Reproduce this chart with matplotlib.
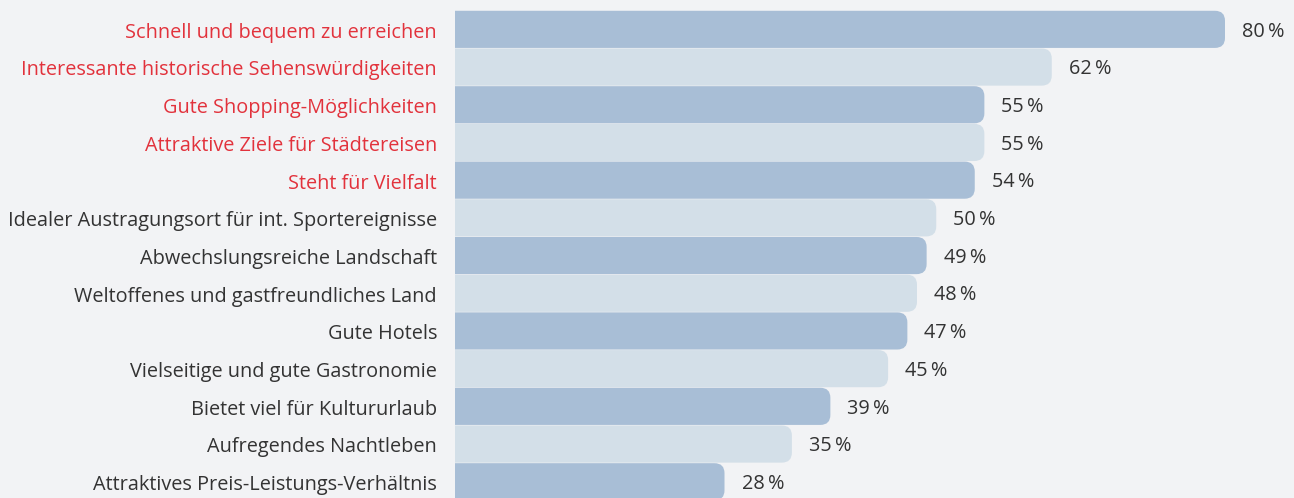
import matplotlib
matplotlib.use("Agg")
import matplotlib.pyplot as plt
from matplotlib.patches import FancyBboxPatch

categories = [
    "Schnell und bequem zu erreichen",
    "Interessante historische Sehenswürdigkeiten",
    "Gute Shopping-Möglichkeiten",
    "Attraktive Ziele für Städtereisen",
    "Steht für Vielfalt",
    "Idealer Austragungsort für int. Sportereignisse",
    "Abwechslungsreiche Landschaft",
    "Weltoffenes und gastfreundliches Land",
    "Gute Hotels",
    "Vielseitige und gute Gastronomie",
    "Bietet viel für Kultururlaub",
    "Aufregendes Nachtleben",
    "Attraktives Preis-Leistungs-Verhältnis",
]
values = [80, 62, 55, 55, 54, 50, 49, 48, 47, 45, 39, 35, 28]
highlighted = [True, True, True, True, True] + [False] * 8

BG = "#f2f3f5"
DARK = "#a8bed6"
LIGHT = "#d3dfe8"
RED = "#e2323c"
TXT = "#333333"
FONT = ["Open Sans", "DejaVu Sans"]

W, H = 1294, 498
fig = plt.figure(figsize=(W / 100, H / 100), dpi=100, facecolor=BG)
ax_left = 455 / W
ax = fig.add_axes([ax_left, 0, 1 - ax_left, 1], facecolor=BG)

px_per_unit_x = 9.625
pitch = 37.7
xmax = (W - 455) / px_per_unit_x
ax.set_xlim(0, xmax)
top = -29.35 / pitch
bottom = (H - 29.35) / pitch
ax.set_ylim(bottom, top)

ypos = list(range(len(values)))
bars = ax.barh(ypos, values, height=0.985, color=[DARK if i % 2 == 0 else LIGHT for i in ypos])

r_px = 10
r_x = r_px / px_per_unit_x
aspect = (1 / pitch) / (1 / px_per_unit_x)
for b in bars:
    x0, y0 = b.get_x(), b.get_y()
    w, h = b.get_width(), b.get_height()
    fc = b.get_facecolor()
    b.remove()
    p = FancyBboxPatch((x0 - 2 * r_x, y0), w + 2 * r_x, h,
                       boxstyle=f"round,pad=0,rounding_size={r_x}",
                       mutation_aspect=aspect, facecolor=fc, edgecolor="none")
    ax.add_patch(p)

FS = 14.3
lab_dy = 8.4 / pitch
val_dy = 7.2 / pitch
for i, (v, lab, hl) in enumerate(zip(values, categories, highlighted)):
    ax.text(v + 17 / px_per_unit_x, i + val_dy, f"{v}\u2009%", va="baseline", ha="left",
            fontsize=FS, color=TXT, family=FONT, clip_on=False)
    ax.text(-18 / px_per_unit_x, i + lab_dy, lab, va="baseline", ha="right",
            fontsize=FS, color=RED if hl else TXT, family=FONT, clip_on=False)

ax.axis("off")
fig.savefig("out.png", dpi=100, facecolor=BG)
